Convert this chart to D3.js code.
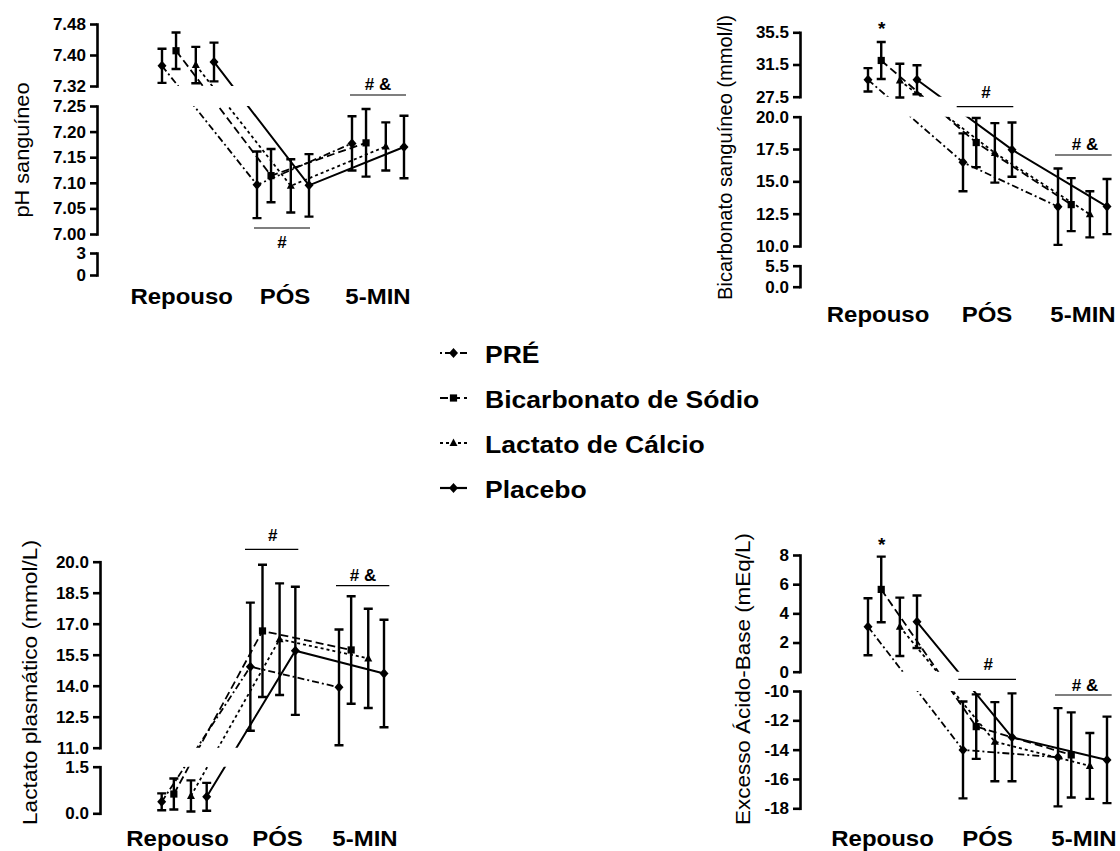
<!DOCTYPE html>
<html lang="pt">
<head>
<meta charset="utf-8">
<script src="https://d3js.org/d3.v7.min.js"></script>
<style>
  body { margin: 0; background: #fff; }
  text { font-family: "Liberation Sans", Arial, sans-serif; fill: #000; }
</style>
</head>
<body>
<script>
var width = 1120, height = 851;

var categories = ["Repouso", "PÓS", "5-MIN"];
var seriesNames = ["PRÉ", "Bicarbonato de Sódio", "Lactato de Cálcio", "Placebo"];

// means and error bars, one row per series, one column per category
var phMean = [[7.372, 7.096, 7.177], [7.411, 7.114, 7.178], [7.374, 7.094, 7.171], [7.382, 7.095, 7.170]];
var phErr  = [[0.044, 0.065, 0.053], [0.047, 0.052, 0.066], [0.047, 0.052, 0.047], [0.050, 0.061, 0.061]];
var phTicks = [[0, 3], [7.00, 7.05, 7.10, 7.15, 7.20, 7.25], [7.32, 7.40, 7.48]];

var bicMean = [[29.6, 16.47, 13.04], [32.0, 18.0, 13.2], [29.5, 17.2, 12.45], [29.6, 17.45, 13.05]];
var bicErr  = [[1.45, 2.24, 2.95], [2.3, 1.9, 2.05], [2.1, 2.3, 1.78], [1.8, 2.1, 2.13]];
var bicTicks = [[0, 5.5], [10, 12.5, 15, 17.5, 20], [27.5, 31.5, 35.5]];

var lacMean = [[0.37, 14.92, 13.92], [0.62, 16.65, 15.73], [0.56, 16.25, 15.32], [0.53, 15.69, 14.59]];
var lacErr  = [[0.27, 3.1, 2.8], [0.5, 3.2, 2.6], [0.5, 2.7, 2.4], [0.45, 3.1, 2.6]];
var lacTicks = [[0, 1.5], [11, 12.5, 14, 15.5, 17, 18.5, 20]];

var beMean = [[3.08, -14.02, -14.52], [5.64, -12.43, -14.36], [3.08, -13.46, -15.11], [3.42, -13.16, -14.70]];
var beErr  = [[1.95, 3.3, 3.35], [2.25, 2.2, 2.9], [2.0, 2.7, 2.25], [1.8, 3.0, 2.95]];
var beTicks = [[-18, -16, -14, -12, -10], [0, 2, 4, 6, 8]];

var dashes = ["7,3,2,3", "8,4", "3,3", null];
var legendOffset = [10, 0, 0, 0];
var markerType = ["diamond", "square", "triangle", "diamond"];

function markerPath(t) {
    if (t == "diamond") return "M0,-5L4.5,0L0,5L-4.5,0Z";
    if (t == "square") return "M-3.6,-3.6h7.2v7.2h-7.2Z";
    return "M0,-4.5L4,3L-4,3Z";
}

var panels = [
    { mean: phMean, err: phErr, ticks: phTicks,
      fmt: function(v) { return v >= 7 ? v.toFixed(2) : String(v); },
      axisX: 97, segPx: [[275, 253], [234, 106], [86, 24]],
      xRange: [162, 352], spread: 52, labelX: [181.7, 285, 378], labelY: 304,
      title: "pH sanguíneo", titleX: 29, titleY: 150, titleLen: 135,
      notes: [{ t: "#", x: 282, y: 248, line: [254, 310, 228] },
              { t: "# &", x: 378, y: 90, line: [350, 406, 95] }] },
    { mean: bicMean, err: bicErr, ticks: bicTicks,
      fmt: function(v) { return v.toFixed(1); },
      axisX: 800, segPx: [[286.7, 265.7], [246, 116.7], [96.7, 32.3]],
      xRange: [868, 1058], spread: 49, labelX: [878, 987, 1083], labelY: 322,
      title: "Bicarbonato sanguíneo (mmol/l)", titleX: 732, titleY: 157.5, titleLen: 285,
      notes: [{ t: "*", x: 881.7, y: 35 },
              { t: "#", x: 986, y: 98, line: [956.7, 1013.3, 106.7] },
              { t: "# &", x: 1085, y: 150, line: [1055, 1111.7, 155] }] },
    { mean: lacMean, err: lacErr, ticks: lacTicks,
      fmt: function(v) { return v.toFixed(1); },
      axisX: 100, segPx: [[813.3, 766.7], [747.7, 561.7]],
      xRange: [161.7, 339], spread: 45, labelX: [177.5, 277.5, 365], labelY: 845.5,
      title: "Lactato plasmático (mmol/L)", titleX: 37, titleY: 682.5, titleLen: 285,
      notes: [{ t: "#", x: 272.7, y: 540.7, line: [245, 298.3, 549.3] },
              { t: "# &", x: 363, y: 580.5, line: [336, 389.3, 585.7] }] },
    { mean: beMean, err: beErr, ticks: beTicks,
      fmt: function(v) { return String(v); },
      axisX: 800, segPx: [[808.3, 691], [671.7, 555]],
      xRange: [868, 1058], spread: 49, labelX: [882.5, 987.5, 1084], labelY: 845.5,
      title: "Excesso Ácido-Base (mEq/L)", titleX: 750, titleY: 679, titleLen: 292,
      notes: [{ t: "*", x: 881.7, y: 551 },
              { t: "#", x: 988.3, y: 670, line: [958.3, 1016, 679.3] },
              { t: "# &", x: 1085, y: 690.7, line: [1055, 1111.7, 695] }] }
];

var svg = d3.select("body").append("svg").attr("width", width).attr("height", height);
svg.append("rect").attr("width", width).attr("height", height).attr("fill", "#fff");
var defs = svg.append("defs");

panels.forEach(function(p, pi) {
    var g = svg.append("g");

    // one linear scale per axis segment (broken axis)
    var segs = p.ticks.map(function(t, i) {
        return d3.scaleLinear().domain(d3.extent(t)).range(p.segPx[i]);
    });
    function segOf(v) {
        var best = segs[0], bd = Infinity;
        segs.forEach(function(s) {
            var d = s.domain();
            var dist = v < d[0] ? d[0] - v : (v > d[1] ? v - d[1] : 0);
            if (dist < bd) { bd = dist; best = s; }
        });
        return best;
    }

    var xg = d3.scalePoint().domain(categories).range(p.xRange);
    var xs = d3.scaleOrdinal().domain(seriesNames).range([0, 0.27, 0.65, 1]);

    var pts = [];
    seriesNames.forEach(function(name, si) {
        categories.forEach(function(c, ci) {
            var v = p.mean[si][ci], s = segOf(v);
            pts.push({ si: si, ci: ci, x: xg(c) + xs(name) * p.spread, y: s(v),
                       y1: s(v + p.err[si][ci]), y2: s(v - p.err[si][ci]) });
        });
    });

    // clip lines to the axis segments
    var clipId = "clip" + pi;
    defs.append("clipPath").attr("id", clipId)
        .selectAll("rect").data(segs).join("rect")
        .attr("x", p.axisX + 2).attr("width", 330)
        .attr("y", function(s) { return d3.min(s.range()); })
        .attr("height", function(s) { return Math.abs(s.range()[0] - s.range()[1]); });

    // axes
    segs.forEach(function(s, i) {
        var a = g.append("g").attr("transform", "translate(" + p.axisX + ",0)")
            .call(d3.axisLeft(s).tickValues(p.ticks[i]).tickSize(7).tickSizeOuter(0)
                .tickPadding(4).tickFormat(p.fmt));
        a.attr("font-size", 17).attr("font-weight", "bold")
         .attr("font-family", '"Liberation Sans", Arial, sans-serif');
        a.select(".domain").attr("stroke-width", 2.6).attr("stroke-linecap", "square");
        a.selectAll(".tick line").attr("stroke-width", 2.6);
    });

    // series lines
    var line = d3.line().x(function(d) { return d.x; }).y(function(d) { return d.y; });
    g.append("g").attr("clip-path", "url(#" + clipId + ")")
        .selectAll("path").data(seriesNames).join("path")
        .attr("d", function(n, si) { return line(pts.filter(function(d) { return d.si == si; })); })
        .attr("fill", "none").attr("stroke", "#000")
        .attr("stroke-width", function(n, si) { return si == 3 ? 2 : 1.8; })
        .attr("stroke-dasharray", function(n, si) { return dashes[si]; });

    // error bars
    g.append("g").selectAll("path").data(pts).join("path")
        .attr("d", function(d) {
            return "M" + d.x + "," + d.y1 + "V" + d.y2 +
                   "M" + (d.x - 4.5) + "," + d.y1 + "h9" +
                   "M" + (d.x - 4.5) + "," + d.y2 + "h9";
        })
        .attr("fill", "none").attr("stroke", "#000").attr("stroke-width", 2.4);

    // markers
    g.append("g").selectAll("path").data(pts).join("path")
        .attr("transform", function(d) { return "translate(" + d.x + "," + d.y + ")"; })
        .attr("d", function(d) { return markerPath(markerType[d.si]); })
        .attr("fill", "#000");

    // category labels
    g.append("g").selectAll("text").data(categories).join("text")
        .attr("transform", function(c, ci) { return "translate(" + p.labelX[ci] + "," + p.labelY + ") scale(1.09,1)"; })
        .attr("text-anchor", "middle").attr("font-size", 22).attr("font-weight", "bold")
        .text(function(c) { return c; });

    // y axis title
    g.append("text")
        .attr("transform", "translate(" + p.titleX + "," + p.titleY + ") rotate(-90)")
        .attr("text-anchor", "middle").attr("font-size", 21)
        .attr("textLength", p.titleLen).attr("lengthAdjust", "spacingAndGlyphs")
        .text(p.title);

    // significance marks
    g.append("g").selectAll("line").data(p.notes.filter(function(n) { return n.line; })).join("line")
        .attr("x1", function(n) { return n.line[0]; }).attr("x2", function(n) { return n.line[1]; })
        .attr("y1", function(n) { return n.line[2]; }).attr("y2", function(n) { return n.line[2]; })
        .attr("stroke", "#000").attr("stroke-width", 1.2);
    g.append("g").selectAll("text").data(p.notes).join("text")
        .attr("x", function(n) { return n.x; }).attr("y", function(n) { return n.y; })
        .attr("text-anchor", "middle").attr("font-size", function(n) { return n.t == "*" ? 19 : 17; })
        .attr("font-weight", "bold")
        .text(function(n) { return n.t; });
});

// legend
var legendY = d3.scalePoint().domain(seriesNames).range([353, 488]);
var leg = svg.append("g").selectAll("g").data(seriesNames).join("g")
    .attr("transform", function(n) { return "translate(0," + legendY(n) + ")"; });
leg.append("line").attr("x1", 440).attr("x2", 467)
    .attr("stroke", "#000").attr("stroke-width", 2.2)
    .attr("stroke-dasharray", function(n, i) { return dashes[i]; })
    .attr("stroke-dashoffset", function(n, i) { return legendOffset[i]; });
leg.append("path")
    .attr("transform", "translate(453.5,0)")
    .attr("d", function(n, i) { return markerPath(markerType[i]); })
    .attr("fill", "#000");
leg.append("text")
    .attr("transform", "translate(485,9.5) scale(1.13,1)")
    .attr("font-size", 23.5).attr("font-weight", "bold")
    .text(function(n) { return n; });
</script>
</body>
</html>
